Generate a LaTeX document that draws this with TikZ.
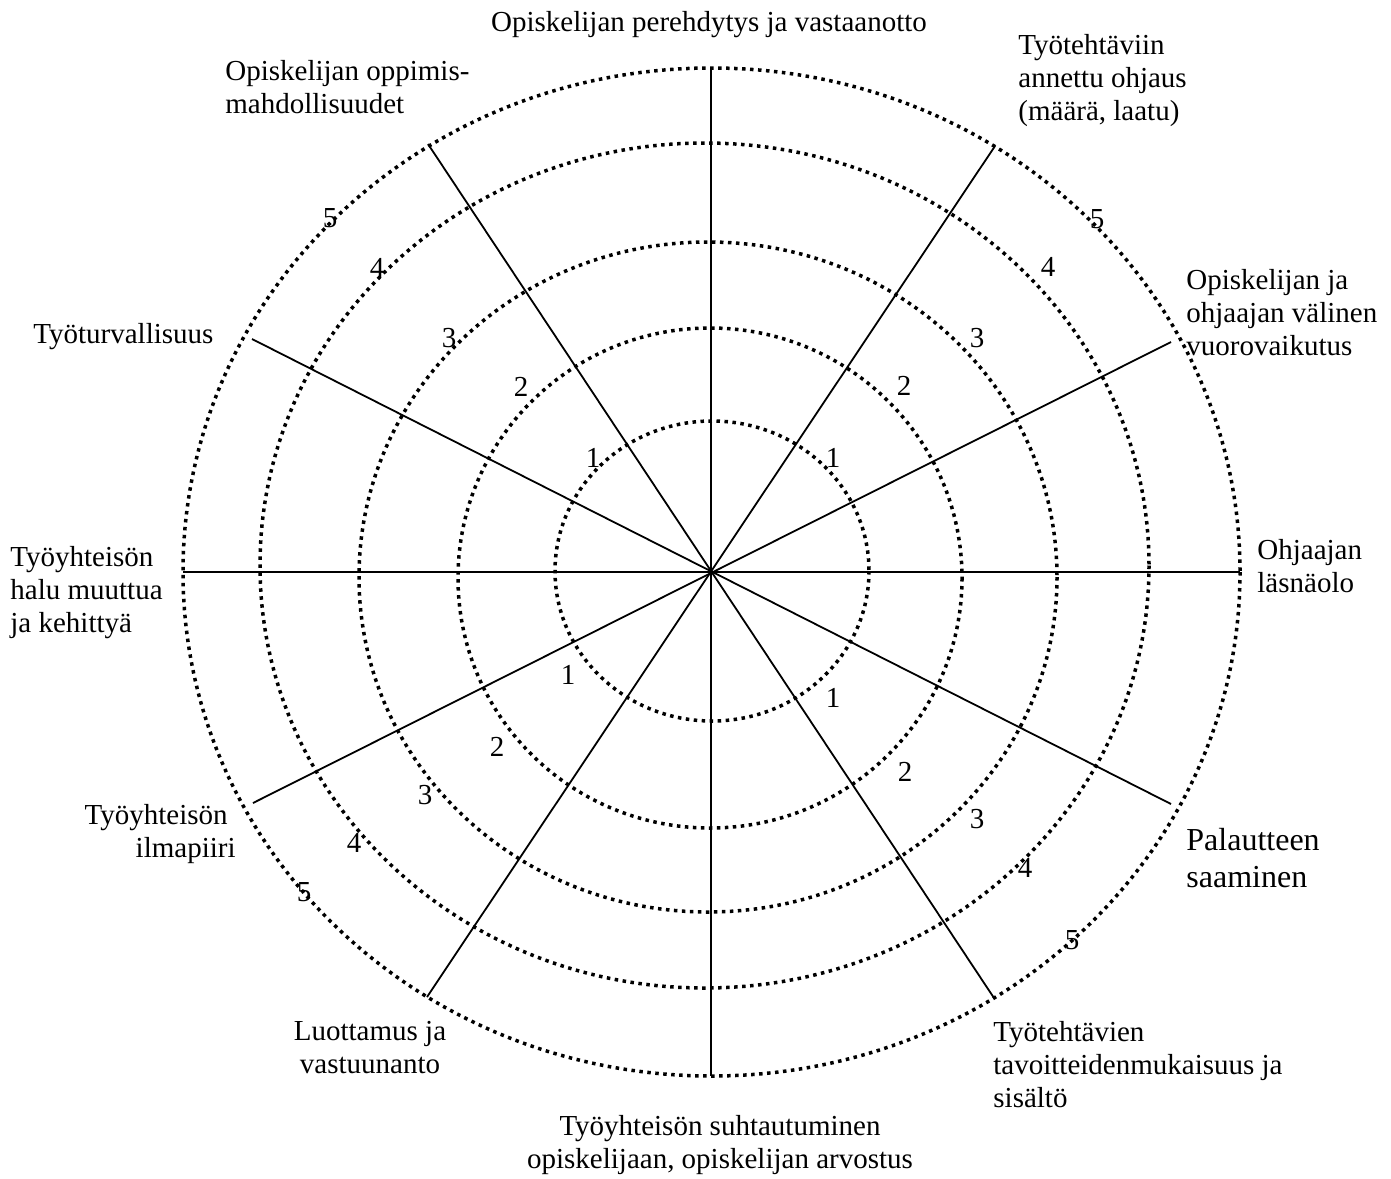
\documentclass[tikz,border=0pt]{standalone}
\usepackage{fontspec}
\setmainfont{Liberation Serif}
\begin{document}
\begin{tikzpicture}[x=0.5pt,y=-0.5pt,
  ring/.style={line width=1.75pt, dash pattern=on 1.75pt off 2.25pt},
  spoke/.style={line width=0.9pt},
  lbl/.style={inner sep=0pt, font=\fontsize{14.5}{16.5}\selectfont},
  biglbl/.style={inner sep=0pt, font=\fontsize{16}{18.5}\selectfont},
  num/.style={inner sep=0pt, font=\fontsize{14.5}{16.5}\selectfont}]
\useasboundingbox (0,0) rectangle (1391,1178);
% rings
\draw[ring] (712,571) ellipse [x radius=157, y radius=150];
\draw[ring] (710,578) ellipse [x radius=252, y radius=250];
\draw[ring] (708,577) ellipse [x radius=349, y radius=335];
\draw[ring] (704.5,565.5) ellipse [x radius=444.5, y radius=422.5];
\draw[ring] (711.5,572) ellipse [x radius=528.5, y radius=504];
% spoke ends
\coordinate (c) at (711,572);
\coordinate (pN) at (711,68);
\coordinate (pS) at (711,1076);
\coordinate (pW) at (183,572);
\coordinate (pE) at (1240,572);
\coordinate (pNW) at (428,144);
\coordinate (pSE) at (994,998);
\coordinate (pNE) at (995,146);
\coordinate (pSW) at (427,997);
\coordinate (pENE) at (1171,342);
\coordinate (pWSW) at (253,803);
\coordinate (pWNW) at (252,339);
\coordinate (pESE) at (1171,804);
\draw[spoke] (pN) -- (pS);
\draw[spoke] (pW) -- (pE);
\draw[spoke] (pNW) -- (pSE);
\draw[spoke] (pNE) -- (pSW);
\draw[spoke] (pENE) -- (pWSW);
\draw[spoke] (pWNW) -- (pESE);
% labels (base anchor = baseline of last line)
\node[lbl, anchor=base] (t1) at (709,32) {Opiskelijan perehdytys ja vastaanotto};
\node[lbl, anchor=base west, align=left] (t2) at (225,113) {Opiskelijan oppimis-\\mahdollisuudet};
\node[lbl, anchor=base west, align=left] (t3) at (1018,120) {Työtehtäviin\\annettu ohjaus\\(määrä, laatu)};
\node[lbl, anchor=base west, align=left] (t4) at (1186,355) {Opiskelijan ja\\ohjaajan välinen\\vuorovaikutus};
\node[lbl, anchor=base west] (t5) at (33,343) {Työturvallisuus};
\node[lbl, anchor=base west, align=left] (t6) at (10,632) {Työyhteisön\\halu muuttua\\ja kehittyä};
\node[lbl, anchor=base west, align=left] (t7) at (1257,592) {Ohjaajan\\läsnäolo};
\node[biglbl, anchor=base west, align=left] (t8) at (1186,887) {Palautteen\\saaminen};
\node[lbl, anchor=base east, align=right] (t9) at (236,857) {Työyhteisön\hspace*{4pt}\\ilmapiiri};
\node[lbl, anchor=base, align=center] (t10) at (370,1073) {Luottamus ja\\vastuunanto};
\node[lbl, anchor=base, align=center] (t11) at (720,1168) {Työyhteisön suhtautuminen\\opiskelijaan, opiskelijan arvostus};
\node[lbl, anchor=base west, align=left] (t12) at (993,1107) {Työtehtävien\\tavoitteidenmukaisuus ja\\sisältö};
% scale numbers
\node[num] (a1) at (593,458) {1};
\node[num] (a2) at (521,387) {2};
\node[num] (a3) at (449,338) {3};
\node[num] (a4) at (377,268) {4};
\node[num] (a5) at (330,218) {5};
\node[num] (b1) at (833,458) {1};
\node[num] (b2) at (904,386) {2};
\node[num] (b3) at (977,338) {3};
\node[num] (b4) at (1048,267) {4};
\node[num] (b5) at (1097,219) {5};
\node[num] (d1) at (568,675) {1};
\node[num] (d2) at (497,747) {2};
\node[num] (d3) at (425,795) {3};
\node[num] (d4) at (354,843) {4};
\node[num] (d5) at (304,892) {5};
\node[num] (e1) at (833,698) {1};
\node[num] (e2) at (905,772) {2};
\node[num] (e3) at (977,819) {3};
\node[num] (e4) at (1025,868) {4};
\node[num] (e5) at (1072,940) {5};
\end{tikzpicture}
\end{document}
